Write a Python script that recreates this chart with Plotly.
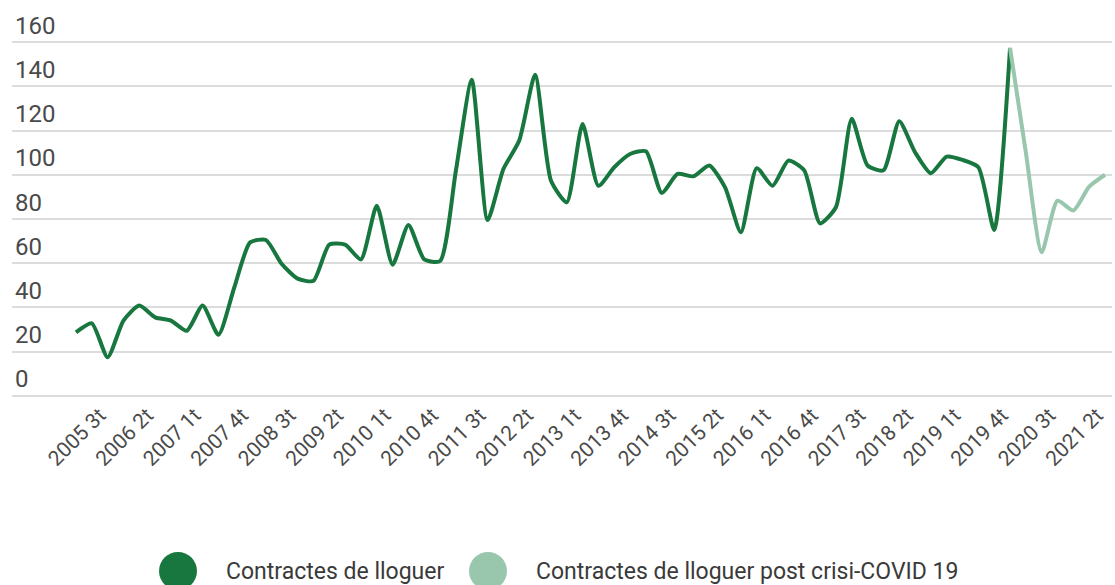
import plotly.graph_objects as go

# ---------------- data ----------------
quarters = [f"{y} {q}t" for y in range(2005, 2022) for q in range(1, 5)][:66]  # 2005 1t .. 2021 2t

contractes = [28.7, 32.8, 17.4, 34, 40.8, 35.5, 34, 29.4, 40.8, 27.6,
              49, 69.4, 70.5, 59.6, 53, 52, 68.4, 68.4, 61.7, 86,
              59.3, 77.3, 61.7, 61, 102, 143, 79.5, 102.6, 115.5, 145.2,
              97.4, 87.5, 123, 95, 103.4, 109.4, 110.6, 91.8, 100.4, 99.3,
              104.2, 94.3, 74, 103, 95, 106.4, 102, 78, 85.3, 125.3,
              104.2, 102, 124.2, 110.2, 100.7, 108.2, 106.7, 103.4, 75, 157.4]
covid_quarters = quarters[59:66]  # 2019 4t .. 2021 2t
contractes_covid = [157.4, 110, 65, 88.3, 83.8, 94.6, 100]

tick_labels = quarters[2::3]
y_ticks = [0, 20, 40, 60, 80, 100, 120, 140, 160]
series_names = ["Contractes de lloguer", "Contractes de lloguer post crisi-COVID 19"]
colors = ["#17773f", "#98c7ae"]

# ---------------- figure ----------------
fig = go.Figure()
fig.add_trace(go.Scatter(x=quarters[:60], y=contractes, mode="lines", name=series_names[0],
                         line=dict(color=colors[0], width=4, shape="spline", smoothing=0.6),
                         hoverinfo="x+y"))
fig.add_trace(go.Scatter(x=covid_quarters, y=contractes_covid, mode="lines", name=series_names[1],
                         line=dict(color=colors[1], width=4, shape="spline", smoothing=0.6),
                         hoverinfo="x+y"))

W, H = 1115, 585
L, R, T, B = 12, 3, 9, 187
plot_h = H - T - B

fig.update_layout(
    width=W, height=H,
    margin=dict(l=L, r=R, t=T, b=B, pad=0),
    paper_bgcolor="white", plot_bgcolor="white",
    showlegend=False,
    font=dict(family="Roboto", color="#4a4a4a"),
)
fig.update_xaxes(
    type="category", categoryorder="array", categoryarray=quarters,
    range=[-4.04, 65.44],
    tickmode="array", tickvals=tick_labels, ticktext=tick_labels,
    tickangle=-45, tickfont=dict(size=21, color="#4a4a4a", family="Roboto"),
    ticklabelshift=-8,
    showgrid=False, showline=False, zeroline=False, ticks="",
)
fig.update_yaxes(
    range=[-1, 175], tickvals=y_ticks,
    ticklabelposition="inside top",
    tickfont=dict(size=24, color="#4a4a4a", family="Roboto"),
    showgrid=True, gridcolor="#dcdcdc", gridwidth=2,
    zeroline=True, zerolinecolor="#dcdcdc", zerolinewidth=2,
    showline=False, ticks="",
)

# legend drawn as circles + labels under the chart
legend_y = (H - B - 571) / plot_h
legend_items = [(178, 224), (488, 534)]
for (cx, tx), name, col in zip(legend_items, series_names, colors):
    fig.add_shape(type="circle", xref="paper", yref="paper",
                  xsizemode="pixel", ysizemode="pixel",
                  xanchor=(cx - L) / (W - L - R), yanchor=legend_y,
                  x0=-19, x1=19, y0=-19, y1=19,
                  fillcolor=col, line=dict(width=0))
    fig.add_annotation(text=name, xref="paper", yref="paper",
                       x=(tx - L) / (W - L - R), y=legend_y,
                       xanchor="left", yanchor="middle", showarrow=False,
                       font=dict(size=23, color="#3a3a3a", family="Roboto"))

fig.write_html("out.html", config={"displayModeBar": False},
               post_script="document.body.style.margin='0px';document.body.style.overflow='hidden';")
